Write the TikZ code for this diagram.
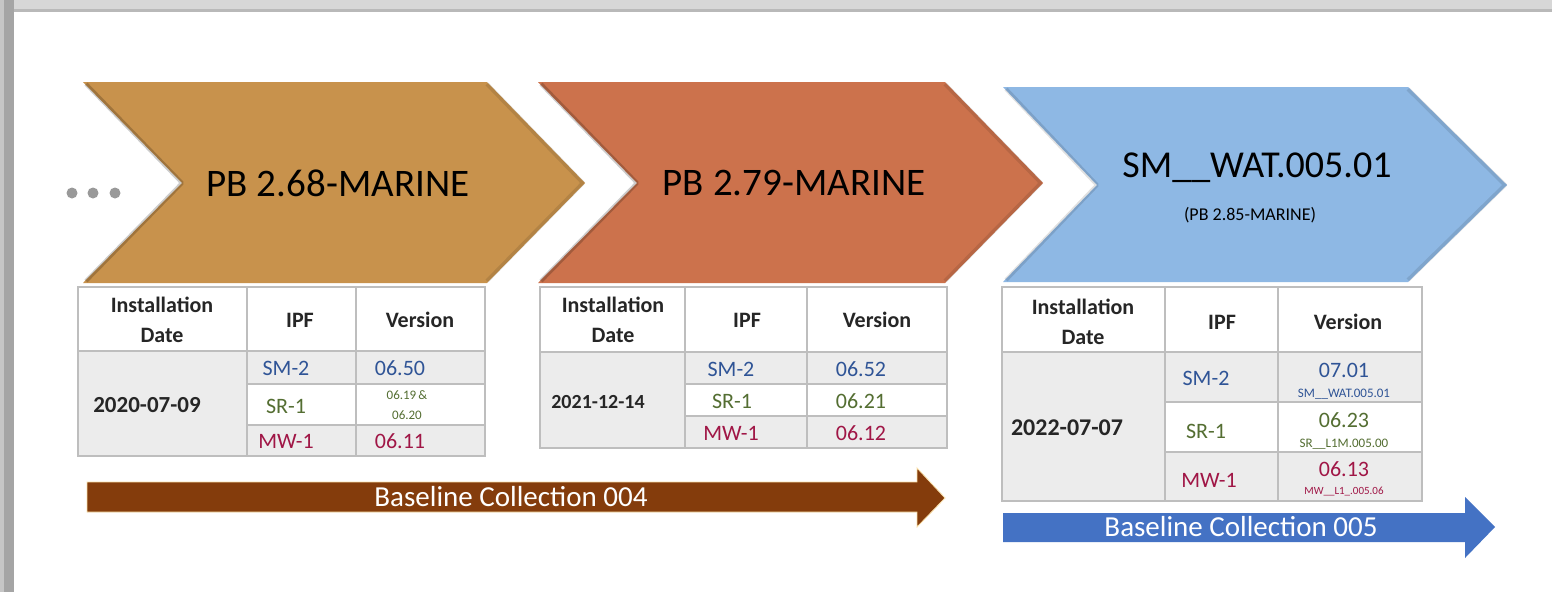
\documentclass[tikz,border=0pt]{standalone}
\usepackage{fontspec}
\setmainfont{Carlito}
\definecolor{chevA}{RGB}{200,146,76}
\definecolor{chevB}{RGB}{204,114,76}
\definecolor{chevC}{RGB}{142,184,228}
\definecolor{brownarr}{RGB}{132,60,12}
\definecolor{bluearr}{RGB}{68,114,196}
\definecolor{tblue}{RGB}{47,84,150}
\definecolor{tgreen}{RGB}{84,110,50}
\definecolor{tred}{RGB}{160,22,70}
\definecolor{cellgray}{RGB}{236,236,236}
\definecolor{rulegray}{RGB}{190,190,190}
\definecolor{framegray}{RGB}{165,165,165}
\definecolor{bandgray}{RGB}{215,215,215}
\definecolor{glow}{RGB}{250,225,170}
\tikzset{
  chevtitle/.style={inner sep=0pt, font=\fontsize{39}{44}\selectfont, text=black},
  hdr/.style={inner sep=0pt, font=\fontsize{22}{30}\selectfont\bfseries, align=center, text=black!85},
  datecell/.style={inner sep=0pt, font=\fontsize{23}{26}\selectfont\bfseries, text=black!85},
  dval/.style={inner sep=0pt, font=\fontsize{22}{25}\selectfont},
  small/.style={inner sep=0pt, font=\fontsize{13}{15}\selectfont},
  grid/.style={draw=rulegray, line width=1.2pt},
  bltext/.style={inner sep=0pt, font=\fontsize{29}{32}\selectfont, text=white},
  dot/.style={circle, fill=gray!80, minimum size=11pt, inner sep=0pt},
  bevel/.style={draw=black, draw opacity=0.2, line width=4pt, line join=round},
}
\begin{document}
\begin{tikzpicture}[x=1pt,y=-1pt]
\useasboundingbox (0,0) rectangle (1552,592);
% frame
\fill[white] (0,0) rectangle (1552,592);
\fill[bandgray] (0,0) rectangle (1552,11);
\fill[gray!55] (0,9) rectangle (1552,12);
\fill[framegray] (0,0) rectangle (14,592);
\fill[gray!45] (0,0) rectangle (4,592);

% dots
\node[dot] (d1) at (72,193) {};
\node[dot] (d2) at (93,193) {};
\node[dot] (d3) at (115,193) {};

% chevrons
\fill[chevA] (83,82) -- (487,82) -- (585,183) -- (487,283) -- (83,283) -- (182,183) -- cycle;
\draw[bevel] (86,84) -- (182,183) -- (86,281);
\draw[bevel,draw opacity=0.1] (487,84) -- (583,183) -- (487,281);
\fill[chevB] (538,82) -- (945,82) -- (1043,183) -- (945,283) -- (538,283) -- (637,183) -- cycle;
\draw[bevel] (541,84) -- (637,183) -- (541,281);
\draw[bevel,draw opacity=0.1] (945,84) -- (1041,183) -- (945,281);
\fill[chevC] (1003,87) -- (1408,87) -- (1507,185) -- (1408,282) -- (1003,282) -- (1097,185) -- cycle;
\draw[bevel,draw opacity=0.12] (1006,89) -- (1097,185) -- (1006,280);
\draw[bevel,draw opacity=0.1] (1408,89) -- (1505,185) -- (1408,280);

\node[chevtitle] (c1) at (338,183) {PB 2.68-MARINE};
\node[chevtitle] (c2) at (794,183) {PB 2.79-MARINE};
\node[chevtitle, font=\fontsize{38}{42}\selectfont] (c3) at (1257,168) {SM\_\_WAT.005.01};
\node[inner sep=0pt, font=\fontsize{18}{20}\selectfont] (c3b) at (1250,215) {(PB 2.85-MARINE)};

% ---------- table 1 ----------
\fill[white] (78,287) rectangle (485,456);
\fill[cellgray] (78,351) rectangle (485,456);
\fill[white] (247,384) rectangle (485,425);
\draw[grid] (78,287) rectangle (485,456);
\draw[grid, line width=2pt] (78,351) -- (485,351);
\draw[grid] (247,287) -- (247,456) (356,287) -- (356,456);
\draw[grid] (247,384) -- (485,384) (247,425) -- (485,425);
\node[hdr] (t1h1) at (162,320) {Installation\\Date};
\node[hdr] (t1h2) at (300,320) {IPF};
\node[hdr] (t1h3) at (420,320) {Version};
\node[datecell] (t1d) at (147,405) {2020-07-09};
\node[dval, text=tblue] (t1a) at (286,368) {SM-2};
\node[dval, text=tgreen] (t1b) at (286,406) {SR-1};
\node[dval, text=tred] (t1c) at (286,441) {MW-1};
\node[dval, text=tblue] (t1av) at (400,368) {06.50};
\node[small, text=tgreen, align=center, font=\fontsize{13}{20}\selectfont] (t1bv) at (407,405) {06.19\,\&\\06.20};
\node[dval, text=tred] (t1cv) at (400,441) {06.11};

% ---------- table 2 ----------
\fill[white] (540,287) rectangle (947,448);
\fill[cellgray] (540,352) rectangle (947,448);
\fill[white] (685,384) rectangle (947,416);
\draw[grid] (540,287) rectangle (947,448);
\draw[grid, line width=2pt] (540,352) -- (947,352);
\draw[grid] (685,287) -- (685,448) (807,287) -- (807,448);
\draw[grid] (685,384) -- (947,384) (685,416) -- (947,416);
\node[hdr] (t2h1) at (613,320) {Installation\\Date};
\node[hdr] (t2h2) at (747,320) {IPF};
\node[hdr] (t2h3) at (877,320) {Version};
\node[datecell, font=\fontsize{20}{24}\selectfont\bfseries] (t2d) at (598,402) {2021-12-14};
\node[dval, text=tblue] (t2a) at (731,369) {SM-2};
\node[dval, text=tgreen] (t2b) at (732,401) {SR-1};
\node[dval, text=tred] (t2c) at (731,433) {MW-1};
\node[dval, text=tblue] (t2av) at (861,369) {06.52};
\node[dval, text=tgreen] (t2bv) at (861,401) {06.21};
\node[dval, text=tred] (t2cv) at (861,433) {06.12};

% ---------- table 3 ----------
\fill[white] (1002,287) rectangle (1422,501);
\fill[cellgray] (1002,352) rectangle (1422,501);
\fill[white] (1165,402) rectangle (1422,452);
\draw[grid] (1002,287) rectangle (1422,501);
\draw[grid, line width=2pt] (1002,352) -- (1422,352);
\draw[grid] (1165,287) -- (1165,501) (1278,287) -- (1278,501);
\draw[grid] (1165,402) -- (1422,402) (1165,452) -- (1422,452);
\node[hdr] (t3h1) at (1083,322) {Installation\\Date};
\node[hdr] (t3h2) at (1222,322) {IPF};
\node[hdr] (t3h3) at (1348,322) {Version};
\node[datecell, font=\fontsize{24}{26}\selectfont\bfseries] (t3d) at (1067,428) {2022-07-07};
\node[dval, text=tblue] (t3a) at (1206,378) {SM-2};
\node[dval, text=tgreen] (t3b) at (1206,431) {SR-1};
\node[dval, text=tred] (t3c) at (1209,480) {MW-1};
\node[dval, text=tblue] (t3av) at (1344,370) {07.01};
\node[small, text=tblue] (t3as) at (1344,394) {SM\_\_WAT.005.01};
\node[dval, text=tgreen] (t3bv) at (1344,420) {06.23};
\node[small, text=tgreen] (t3bs) at (1344,444) {SR\_\_L1M.005.00};
\node[dval, text=tred] (t3cv) at (1344,469) {06.13};
\node[small, text=tred, font=\fontsize{11}{12}\selectfont] (t3cs) at (1344,492) {MW\_\_L1\_.005.06};

% ---------- baseline arrows ----------
\filldraw[fill=brownarr, draw=glow, line width=0.8pt, line join=miter] (87,482) -- (917,482) -- (917,468) -- (945,498) -- (917,527) -- (917,512) -- (87,512) -- cycle;
\node[bltext] (b1) at (511,497) {Baseline Collection 004};
\fill[bluearr] (1003,513) -- (1465,513) -- (1465,497) -- (1495,527) -- (1465,558) -- (1465,542) -- (1003,542) -- cycle;
\node[bltext] (b2) at (1241,527) {Baseline Collection 005};
\end{tikzpicture}
\end{document}
